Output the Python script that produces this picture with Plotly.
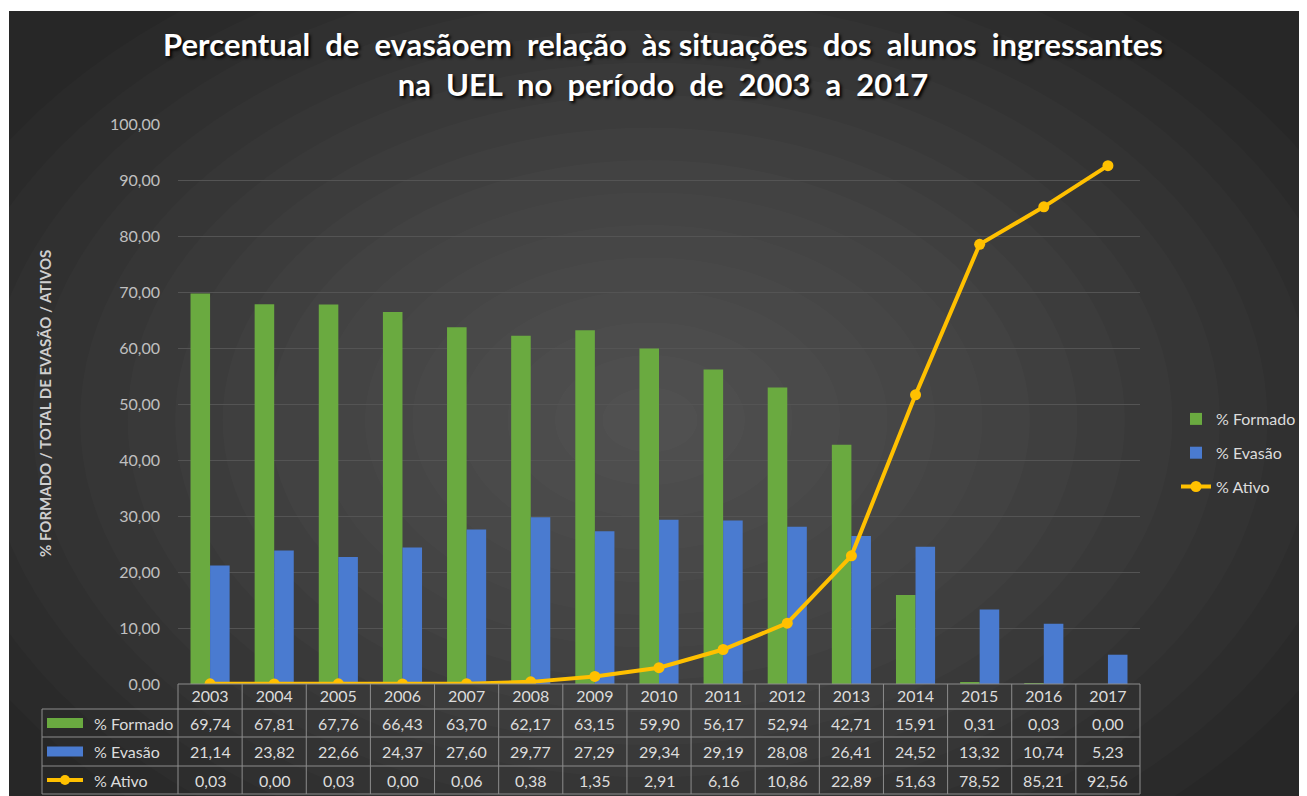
import plotly.graph_objects as go

anos = [str(a) for a in range(2003, 2018)]
formado = [69.74, 67.81, 67.76, 66.43, 63.70, 62.17, 63.15, 59.90, 56.17, 52.94, 42.71, 15.91, 0.31, 0.03, 0.00]
evasao = [21.14, 23.82, 22.66, 24.37, 27.60, 29.77, 27.29, 29.34, 29.19, 28.08, 26.41, 24.52, 13.32, 10.74, 5.23]
ativo = [0.03, 0.00, 0.03, 0.00, 0.06, 0.38, 1.35, 2.91, 6.16, 10.86, 22.89, 51.63, 78.52, 85.21, 92.56]

series = [
    ("% Formado", formado, "#6aaa40"),
    ("% Evasão", evasao, "#4a7bd0"),
    ("% Ativo", ativo, "#ffc000"),
]

W, H = 1307, 796
OFF = 8  # page body margin
L, R, T, B = 178 - OFF, 1140 - OFF, 124 - OFF, 684 - OFF  # plot area (figure pixels)


def px(x):
    # reference screen x -> paper
    return (x - OFF - L) / (R - L)


def py(y):
    return (B - (y - OFF)) / (B - T)


FONT = "Lato"
TXT = "#dcdcdc"
GRID_T = "#8c8c8c"

fig = go.Figure()
for nome, vals, cor in series[:2]:
    fig.add_trace(go.Bar(x=anos, y=vals, name=nome, marker=dict(color=cor, line=dict(width=0)),
                         legendgroup=nome))
nome, vals, cor = series[2]
fig.add_trace(go.Scatter(x=anos, y=vals, name=nome, mode="lines+markers",
                         line=dict(color=cor, width=4), marker=dict(size=11, color=cor),
                         legendgroup=nome))

shapes = []
# white border + dark background
shapes.append(dict(type="rect", xref="paper", yref="paper", x0=px(9), x1=px(W + 20), y0=py(11), y1=py(H + 20),
                   fillcolor="#272727", line=dict(width=0), layer="below"))
# radial gradient approximation
cx, cy = 650, 420
n = 16
for k in range(n):
    f = 1 - k / n
    rx, ry = 760 * f, 520 * f
    shapes.append(dict(type="circle", xref="paper", yref="paper",
                       x0=px(cx - rx), x1=px(cx + rx), y0=py(cy + ry), y1=py(cy - ry),
                       fillcolor="rgba(255,255,255,0.014)", line=dict(width=0), layer="below"))

# data table grid
rows_px = [684, 709, 737, 766, 794]
ncol = len(anos)
shapes.append(dict(type="line", xref="paper", yref="paper", x0=0, x1=1, y0=py(684), y1=py(684),
                   line=dict(color=GRID_T, width=1)))
for yy in rows_px[1:]:
    shapes.append(dict(type="line", xref="paper", yref="paper", x0=px(42), x1=1, y0=py(yy), y1=py(yy),
                       line=dict(color=GRID_T, width=1)))
for k in range(ncol + 1):
    shapes.append(dict(type="line", xref="paper", yref="paper", x0=k / ncol, x1=k / ncol,
                       y0=py(684), y1=py(794), line=dict(color=GRID_T, width=1)))
shapes.append(dict(type="line", xref="paper", yref="paper", x0=px(42), x1=px(42),
                   y0=py(709), y1=py(794), line=dict(color=GRID_T, width=1)))

annotations = []
row_c = [(rows_px[i + 1] + rows_px[i + 2]) / 2 for i in range(3)]
for (nome, vals, cor), yc in zip(series, row_c):
    if nome == "% Ativo":
        shapes.append(dict(type="line", xref="paper", yref="paper", x0=px(47), x1=px(83),
                           y0=py(yc), y1=py(yc), line=dict(color=cor, width=4)))
        shapes.append(dict(type="circle", xref="paper", yref="paper", x0=px(60), x1=px(70),
                           y0=py(yc + 5), y1=py(yc - 5), fillcolor=cor, line=dict(width=0)))
    else:
        shapes.append(dict(type="rect", xref="paper", yref="paper", x0=px(47), x1=px(83),
                           y0=py(yc + 5), y1=py(yc - 5), fillcolor=cor, line=dict(width=0)))
    annotations.append(dict(text=nome, xref="paper", yref="paper", x=px(92), y=py(yc),
                            xanchor="left", yanchor="middle", showarrow=False,
                            font=dict(family=FONT, size=16, color=TXT)))
    for i, v in enumerate(vals):
        annotations.append(dict(text=f"{v:.2f}".replace(".", ","), xref="x", yref="paper",
                                x=i, y=py(yc), xanchor="center", yanchor="middle",
                                showarrow=False, font=dict(family=FONT, size=16, color=TXT)))

annotations.append(dict(text="<b>% FORMADO / TOTAL DE EVASÃO / ATIVOS</b>", xref="paper", yref="paper",
                        x=px(45), y=py(404), textangle=-90, showarrow=False,
                        xanchor="center", yanchor="middle",
                        font=dict(family=FONT, size=15, color="#cfcfcf")))

titulo = ("<b>Percentual\u00a0 de\u00a0 evasãoem\u00a0 relação\u00a0 às situações\u00a0 dos\u00a0 alunos\u00a0 ingressantes"
          "<br>na\u00a0 UEL\u00a0 no\u00a0 período\u00a0 de\u00a0 2003\u00a0 a\u00a0 2017</b>")

fig.update_layout(
    width=W, height=H,
    margin=dict(l=L, r=W - R, t=T, b=H - B, pad=0),
    paper_bgcolor="white",
    plot_bgcolor="rgba(0,0,0,0)",
    title=dict(text=titulo, x=px(663), xref="paper", xanchor="center", y=1 - 48 / H, yanchor="top",
               font=dict(family=FONT, size=31, color="white", shadow="2px 2px 3px #000")),
    barmode="group", bargap=0.39, bargroupgap=0,
    separators=",.",
    showlegend=True,
    legend=dict(x=px(1176), y=py(453), xanchor="left", yanchor="middle",
                font=dict(family=FONT, size=16, color=TXT), bgcolor="rgba(0,0,0,0)",
                traceorder="grouped", tracegroupgap=10),
    xaxis=dict(type="category", range=[-0.5, len(anos) - 0.5], showgrid=False, showline=False, ticks="",
               tickfont=dict(family=FONT, size=16, color=TXT), ticklabelstandoff=1),
    yaxis=dict(range=[0, 100], dtick=10, tickformat=".2f", showgrid=True, gridcolor="#545454",
               gridwidth=1, zeroline=False, tickfont=dict(family=FONT, size=16, color="#c0c0c0"),
               ticklabelstandoff=17),
    shapes=shapes,
    annotations=annotations,
)

fig.write_html("out.html")
